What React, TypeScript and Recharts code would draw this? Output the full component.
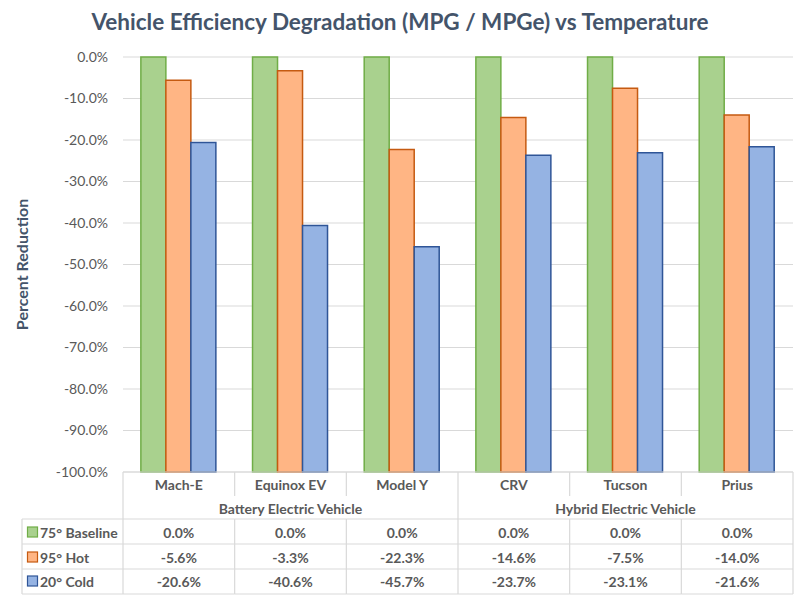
import { BarChart, Bar, XAxis, YAxis, CartesianGrid } from 'recharts';

const categories = ['Mach-E', 'Equinox EV', 'Model Y', 'CRV', 'Tucson', 'Prius'];
const groupNames = ['Battery Electric Vehicle', 'Hybrid Electric Vehicle'];
const groupSizes = [3, 3];
const baseline = [0.0, 0.0, 0.0, 0.0, 0.0, 0.0];
const hot = [-5.6, -3.3, -22.3, -14.6, -7.5, -14.0];
const cold = [-20.6, -40.6, -45.7, -23.7, -23.1, -21.6];
const yTicks = [0, -10, -20, -30, -40, -50, -60, -70, -80, -90, -100];

const series = [
  { key: 'baseline', name: '75° Baseline', values: baseline, fill: '#A9D18E', stroke: '#70AD47' },
  { key: 'hot', name: '95° Hot', values: hot, fill: '#FFB584', stroke: '#C55A11' },
  { key: 'cold', name: '20° Cold', values: cold, fill: '#95B3E3', stroke: '#2F5597' },
];

const W = 800;
const H = 600;
const M = { top: 57, right: 7, bottom: 0, left: 0 };
const X_AXIS_H = 128;
const Y_AXIS_W = 123;
const PLOT_W = W - M.left - M.right - Y_AXIS_W;
const LEGEND_X = 22;
const FONT = 'Lato, "Open Sans", sans-serif';
const TEXT = '#595959';
const LINE = '#D9D9D9';

const data = categories.map((name, i) => ({
  name,
  baseline: baseline[i],
  hot: hot[i],
  cold: cold[i],
}));

const fmt = (v: number) => `${v.toFixed(1)}%`;

// row offsets below the plot bottom
const ROW_LINES = [0, 47, 72, 97, 122];
const ROW_CENTERS = [60, 85, 109];

function groupOf(index: number) {
  let start = 0;
  for (let g = 0; g < groupSizes.length; g++) {
    if (index < start + groupSizes[g]) return { g, start, end: start + groupSizes[g] - 1 };
    start += groupSizes[g];
  }
  return { g: 0, start: 0, end: 0 };
}

function TableTick(props: any) {
  const { x, y, index } = props;
  const band = PLOT_W / categories.length;
  const left = x - band / 2;
  const right = x + band / 2;
  const grp = groupOf(index);
  const isGroupEnd = index === grp.end;
  const txt = { fill: TEXT, fontFamily: FONT, fontWeight: 700, fontSize: 14 };

  return (
    <g>
      {ROW_LINES.map((d) => (
        <line key={d} x1={left} x2={right} y1={y + d} y2={y + d} stroke={LINE} strokeWidth={1.2} />
      ))}
      {isGroupEnd ? (
        <line x1={right} x2={right} y1={y} y2={y + 122} stroke={LINE} strokeWidth={1.2} />
      ) : (
        <>
          <line x1={right} x2={right} y1={y} y2={y + 24} stroke={LINE} strokeWidth={1.2} />
          <line x1={right} x2={right} y1={y + 47} y2={y + 122} stroke={LINE} strokeWidth={1.2} />
        </>
      )}
      <text x={x} y={y + 12} textAnchor="middle" dominantBaseline="central" {...txt}>
        {categories[index]}
      </text>
      {index === grp.start && (
        <text
          x={x + ((groupSizes[grp.g] - 1) / 2) * band}
          y={y + 36}
          textAnchor="middle"
          dominantBaseline="central"
          {...txt}
        >
          {groupNames[grp.g]}
        </text>
      )}
      {series.map((s, r) => (
        <text key={s.key} x={x} y={y + ROW_CENTERS[r]} textAnchor="middle" dominantBaseline="central" {...txt}>
          {fmt(s.values[index])}
        </text>
      ))}
      {index === 0 && (
        <g>
          <line x1={left} x2={left} y1={y} y2={y + 122} stroke={LINE} strokeWidth={1.2} />
          <line x1={LEGEND_X} x2={LEGEND_X} y1={y + 47} y2={y + 122} stroke={LINE} strokeWidth={1.2} />
          {ROW_LINES.slice(1).map((d) => (
            <line key={d} x1={LEGEND_X} x2={left} y1={y + d} y2={y + d} stroke={LINE} strokeWidth={1.2} />
          ))}
          {series.map((s, r) => (
            <g key={s.key}>
              <rect
                x={LEGEND_X + 5.5}
                y={y + ROW_CENTERS[r] - 5}
                width={10}
                height={10}
                fill={s.fill}
                stroke={s.stroke}
                strokeWidth={1.2}
              />
              <text x={LEGEND_X + 18} y={y + ROW_CENTERS[r]} dominantBaseline="central" {...txt}>
                {s.name}
              </text>
            </g>
          ))}
        </g>
      )}
    </g>
  );
}

export default function App() {
  return (
    <div style={{ position: 'absolute', left: 0, top: 0, width: W, height: H, background: '#fff' }}>
      <div
        style={{
          position: 'absolute',
          left: 0,
          top: 6,
          width: W,
          textAlign: 'center',
          fontFamily: FONT,
          fontWeight: 700,
          fontSize: 22.5,
          color: '#44546A',
          lineHeight: '32px',
        }}
      >
        Vehicle Efficiency Degradation (MPG / MPGe) vs Temperature
      </div>
      <BarChart
        width={W}
        height={H}
        data={data}
        margin={M}
        barCategoryGap="16%"
        barGap={0}
      >
        <CartesianGrid vertical={false} stroke={LINE} strokeWidth={1.2} />
        <YAxis
          type="number"
          domain={[-100, 0]}
          ticks={yTicks}
          width={Y_AXIS_W}
          tickFormatter={fmt}
          axisLine={false}
          tickLine={false}
          tickMargin={9}
          tick={{ fill: TEXT, fontFamily: FONT, fontSize: 14 }}
          label={{
            value: 'Percent Reduction',
            angle: -90,
            position: 'insideLeft',
            offset: 22,
            style: { textAnchor: 'middle', fill: '#44546A', fontFamily: FONT, fontWeight: 700, fontSize: 16 },
          }}
        />
        <XAxis
          dataKey="name"
          height={X_AXIS_H}
          axisLine={false}
          tickLine={false}
          tickSize={0}
          tickMargin={0}
          interval={0}
          tick={<TableTick />}
        />
        {series.map((s) => (
          <Bar
            key={s.key}
            name={s.name}
            dataKey={(d: any) => [-100, d[s.key]]}
            fill={s.fill}
            stroke={s.stroke}
            strokeWidth={1.5}
            isAnimationActive={false}
          />
        ))}
      </BarChart>
    </div>
  );
}
